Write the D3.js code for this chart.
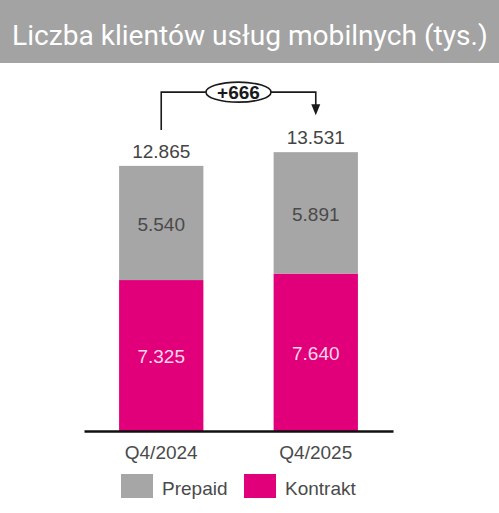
<!DOCTYPE html>
<html>
<head>
<meta charset="utf-8">
<script src="https://cdn.jsdelivr.net/npm/d3@7"></script>
<style>
  html, body { margin: 0; padding: 0; background: #fff; }
  svg { display: block; }
</style>
</head>
<body>
<div id="chart"></div>
<script>
// data
const categories = ["Q4/2024", "Q4/2025"];
const prepaid = [5540, 5891];
const kontrakt = [7325, 7640];
const totals = [12865, 13531];
const seriesNames = ["Prepaid", "Kontrakt"];
const deltaLabel = "+666";
const title = "Liczba klientów usług mobilnych (tys.)";

const fmt = v => d3.format(",")(v).replace(/,/g, ".");

const width = 499, height = 513;
const numFont = "'Liberation Sans', Arial, sans-serif";
const textCol = "#4a4a4a";
const colours = { Prepaid: "#a6a6a6", Kontrakt: "#e2007a" };

const svg = d3.select("#chart").append("svg")
  .attr("width", width)
  .attr("height", height);

// title bar
svg.append("rect")
  .attr("x", 0).attr("y", 0)
  .attr("width", width).attr("height", 63)
  .attr("fill", "#a3a3a3");

const titleText = svg.append("text")
  .attr("x", 12).attr("y", 45)
  .attr("fill", "#fff")
  .attr("font-family", "Roboto, 'Liberation Sans', sans-serif")
  .attr("font-size", 30)
  .text(title);
// shrink the title so it fits in the bar
const tw = titleText.node().getComputedTextLength();
if (tw > 476) titleText.attr("font-size", 30 * 476 / tw);

// scales
const x = d3.scaleBand()
  .domain(categories)
  .range([84, 393])
  .paddingInner(0.4545)
  .paddingOuter(0.227);

const y = d3.scaleLinear()
  .domain([0, 14000])
  .range([431, 142.5]);

// stacked rows
const rows = categories.map((c, i) => ({ cat: c, Kontrakt: kontrakt[i], Prepaid: prepaid[i], total: totals[i] }));
const stack = d3.stack().keys(["Kontrakt", "Prepaid"])(rows);

const layers = svg.append("g")
  .selectAll("g")
  .data(stack)
  .join("g")
  .attr("fill", d => colours[d.key]);

layers.selectAll("rect")
  .data(d => d)
  .join("rect")
  .attr("x", d => x(d.data.cat))
  .attr("width", x.bandwidth())
  .attr("y", d => y(d[1]))
  .attr("height", d => y(d[0]) - y(d[1]));

// segment labels
layers.selectAll("text")
  .data(d => d.map(v => ({ v, key: d.key })))
  .join("text")
  .attr("x", d => x(d.v.data.cat) + x.bandwidth() / 2)
  .attr("y", d => (y(d.v[0]) + y(d.v[1])) / 2 + 1)
  .attr("dy", "0.35em")
  .attr("text-anchor", "middle")
  .attr("font-family", numFont)
  .attr("font-size", 19)
  .attr("fill", d => d.key === "Kontrakt" ? "#fbd6e8" : "#4a4a4a")
  .text(d => fmt(d.v.data[d.key]));

// totals above bars
svg.append("g")
  .selectAll("text")
  .data(rows)
  .join("text")
  .attr("x", d => x(d.cat) + x.bandwidth() / 2)
  .attr("y", d => y(d.total) - 8)
  .attr("text-anchor", "middle")
  .attr("font-family", numFont)
  .attr("font-size", 19)
  .attr("fill", "#444")
  .text(d => fmt(d.total));

// x axis
const axis = svg.append("g")
  .attr("transform", "translate(0,431)")
  .call(d3.axisBottom(x).tickSize(0).tickSizeOuter(0).tickPadding(14.5));
axis.select(".domain").attr("stroke", "#111").attr("stroke-width", 2.5);
axis.selectAll("text")
  .attr("font-family", numFont)
  .attr("font-size", 19)
  .attr("fill", textCol);

// change connector
const x1 = x(categories[0]) + x.bandwidth() / 2;
const x2 = x(categories[1]) + x.bandwidth() / 2;
const topY = y(d3.max(totals)) - 60;
const startY = y(totals[0]) - 36;
const tipY = y(totals[1]) - 37;
const conn = svg.append("g");
conn.append("path")
  .attr("d", `M${x1},${startY}V${topY}H${x2}V${tipY - 10}`)
  .attr("fill", "none")
  .attr("stroke", "#1a1a1a")
  .attr("stroke-width", 1.6);
conn.append("path")
  .attr("d", `M${x2 - 4.5},${tipY - 11}L${x2 + 4.5},${tipY - 11}L${x2},${tipY}Z`)
  .attr("fill", "#1a1a1a");
const cx = (x1 + x2) / 2;
conn.append("ellipse")
  .attr("cx", cx).attr("cy", topY)
  .attr("rx", 32.5).attr("ry", 10)
  .attr("fill", "#fff")
  .attr("stroke", "#1a1a1a")
  .attr("stroke-width", 1.6);
conn.append("text")
  .attr("x", cx).attr("y", topY)
  .attr("dy", "0.36em")
  .attr("text-anchor", "middle")
  .attr("font-family", numFont)
  .attr("font-weight", "bold")
  .attr("font-size", 19)
  .attr("fill", "#1a1a1a")
  .text(deltaLabel);

// legend
const legendX = [121, 244];
const legend = svg.append("g")
  .selectAll("g")
  .data(seriesNames)
  .join("g")
  .attr("transform", (d, i) => `translate(${legendX[i]},474)`);
legend.append("rect")
  .attr("width", 32).attr("height", 24)
  .attr("fill", d => colours[d]);
legend.append("text")
  .attr("x", 41).attr("y", 21)
  .attr("font-family", numFont)
  .attr("font-size", 19)
  .attr("fill", textCol)
  .text(d => d);
</script>
</body>
</html>
